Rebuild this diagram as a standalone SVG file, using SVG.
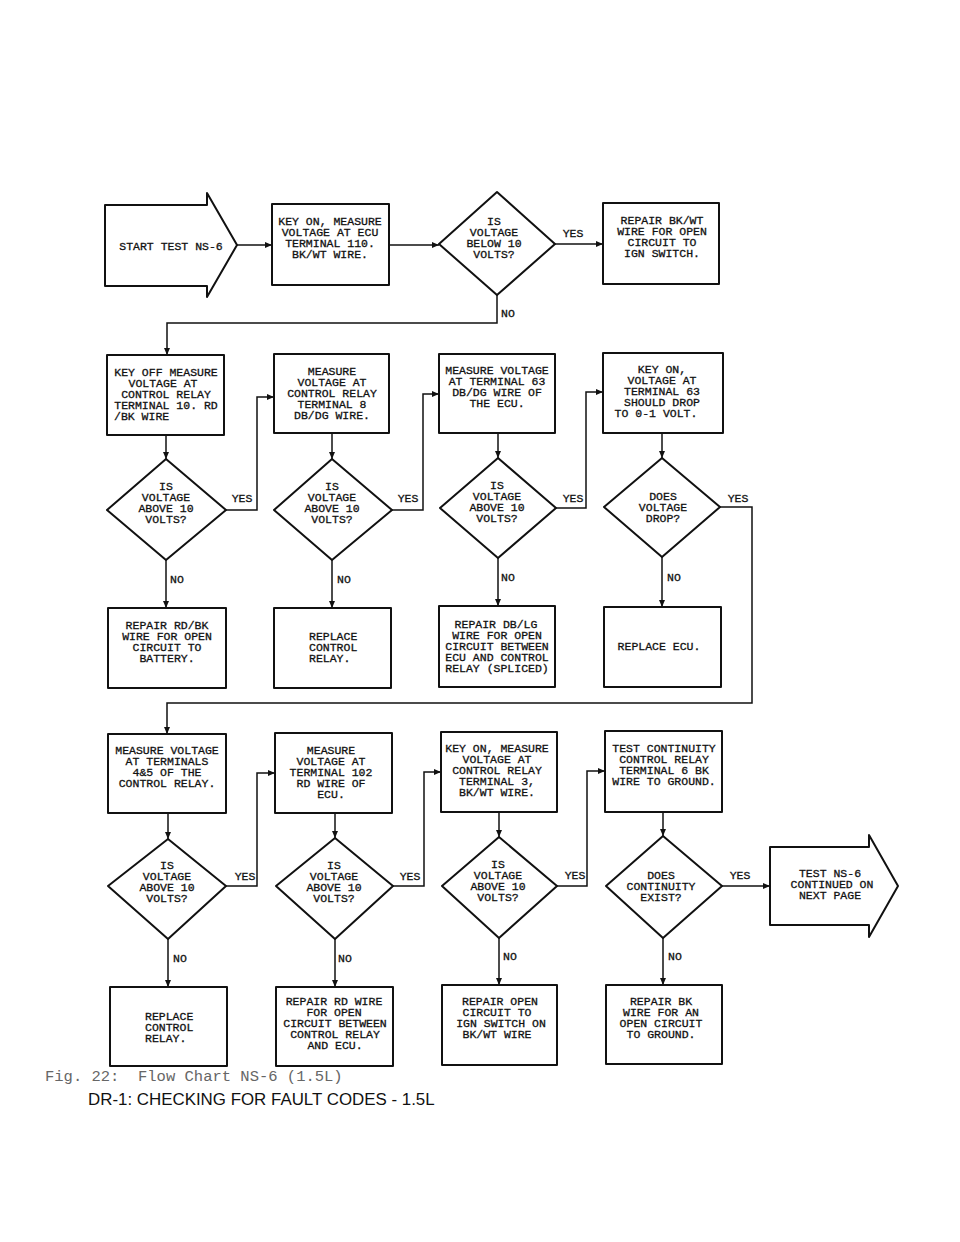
<svg xmlns="http://www.w3.org/2000/svg" width="960" height="1242" viewBox="0 0 960 1242">
<style>
.box{fill:#fff;stroke:#111;stroke-width:2;stroke-linejoin:round}
.c{fill:none;stroke:#111;stroke-width:1.5}
.t{font-family:"Liberation Mono",monospace;font-size:11.5px;fill:#111;stroke:#111;stroke-width:0.3;text-anchor:middle}
.l{font-family:"Liberation Mono",monospace;font-size:11.5px;fill:#111;stroke:#111;stroke-width:0.3;text-anchor:start}
</style>
<defs>
<marker id="ah" markerUnits="userSpaceOnUse" markerWidth="7" markerHeight="6" refX="7" refY="3" orient="auto">
<path d="M0,0 L7,3 L0,6 z" fill="#111"/>
</marker>
</defs>
<rect width="960" height="1242" fill="#fff"/>

<g id="connectors">
<path class="c" d="M237,245 H272" marker-end="url(#ah)"/>
<path class="c" d="M389,245 H439" marker-end="url(#ah)"/>
<path class="c" d="M555,244 H603" marker-end="url(#ah)"/>
<path class="c" d="M497,295 V323 H167 V355" marker-end="url(#ah)"/>
<path class="c" d="M166,435 V459" marker-end="url(#ah)"/>
<path class="c" d="M332,433 V459" marker-end="url(#ah)"/>
<path class="c" d="M498,433 V458" marker-end="url(#ah)"/>
<path class="c" d="M662,433 V458" marker-end="url(#ah)"/>
<path class="c" d="M226,510 H257 V397 H274" marker-end="url(#ah)"/>
<path class="c" d="M392,510 H423 V394 H439" marker-end="url(#ah)"/>
<path class="c" d="M556,508 H586 V392 H603" marker-end="url(#ah)"/>
<path class="c" d="M720,507 H752 V703 H167 V734" marker-end="url(#ah)"/>
<path class="c" d="M166,560 V608" marker-end="url(#ah)"/>
<path class="c" d="M332,560 V608" marker-end="url(#ah)"/>
<path class="c" d="M498,558 V606" marker-end="url(#ah)"/>
<path class="c" d="M662,557 V607" marker-end="url(#ah)"/>
<path class="c" d="M168,813 V839" marker-end="url(#ah)"/>
<path class="c" d="M335,813 V838" marker-end="url(#ah)"/>
<path class="c" d="M499,812 V837" marker-end="url(#ah)"/>
<path class="c" d="M663,812 V836" marker-end="url(#ah)"/>
<path class="c" d="M226,886 H257 V773 H275" marker-end="url(#ah)"/>
<path class="c" d="M393,886 H424 V772 H441" marker-end="url(#ah)"/>
<path class="c" d="M557,886 H587 V771 H605" marker-end="url(#ah)"/>
<path class="c" d="M722,886 H770" marker-end="url(#ah)"/>
<path class="c" d="M168,939 V987" marker-end="url(#ah)"/>
<path class="c" d="M335,939 V987" marker-end="url(#ah)"/>
<path class="c" d="M499,938 V985" marker-end="url(#ah)"/>
<path class="c" d="M663,938 V985" marker-end="url(#ah)"/>
</g>

<g id="labels">
<text class="t" x="573" y="237">YES</text>
<text class="l" x="501" y="317">NO</text>
<text class="t" x="242" y="502">YES</text>
<text class="t" x="408" y="502">YES</text>
<text class="t" x="573" y="502">YES</text>
<text class="t" x="738" y="502">YES</text>
<text class="l" x="170" y="583">NO</text>
<text class="l" x="337" y="583">NO</text>
<text class="l" x="501" y="581">NO</text>
<text class="l" x="667" y="581">NO</text>
<text class="t" x="245" y="880">YES</text>
<text class="t" x="410" y="880">YES</text>
<text class="t" x="575" y="879">YES</text>
<text class="t" x="740" y="879">YES</text>
<text class="l" x="173" y="962">NO</text>
<text class="l" x="338" y="962">NO</text>
<text class="l" x="503" y="960">NO</text>
<text class="l" x="668" y="960">NO</text>
</g>

<g id="start">
<polygon class="box" points="105,205 207,205 207,193 237,245 207,297 207,286 105,286"/>
<text class="t" x="171" y="250">START TEST NS-6</text>
</g>

<g id="n1">
<rect class="box" x="272" y="204" width="117" height="81"/>
<text class="t" x="330" y="225">KEY ON, MEASURE</text>
<text class="t" x="330" y="236">VOLTAGE AT ECU</text>
<text class="t" x="330" y="247">TERMINAL 110.</text>
<text class="t" x="330" y="258">BK/WT WIRE.</text>
</g>

<g id="d1">
<polygon class="box" points="497,192 555,244 497,295 439,244"/>
<text class="t" x="494" y="225">IS</text>
<text class="t" x="494" y="236">VOLTAGE</text>
<text class="t" x="494" y="247">BELOW 10</text>
<text class="t" x="494" y="258">VOLTS?</text>
</g>

<g id="n2">
<rect class="box" x="603" y="203" width="116" height="81"/>
<text class="t" x="662" y="224">REPAIR BK/WT</text>
<text class="t" x="662" y="235">WIRE FOR OPEN</text>
<text class="t" x="662" y="246">CIRCUIT TO</text>
<text class="t" x="662" y="257">IGN SWITCH.</text>
</g>

<g id="r2b1">
<rect class="box" x="107" y="355" width="117" height="80"/>
<text class="t" x="166" y="376">KEY OFF MEASURE</text>
<text class="t" x="163" y="387">VOLTAGE AT</text>
<text class="t" x="166" y="398">CONTROL RELAY</text>
<text class="t" x="166" y="409">TERMINAL 10. RD</text>
<text class="l" x="114" y="420">/BK WIRE</text>
</g>

<g id="r2b2">
<rect class="box" x="274" y="354" width="115" height="79"/>
<text class="t" x="332" y="375">MEASURE</text>
<text class="t" x="332" y="386">VOLTAGE AT</text>
<text class="t" x="332" y="397">CONTROL RELAY</text>
<text class="t" x="332" y="408">TERMINAL 8</text>
<text class="t" x="332" y="419">DB/DG WIRE.</text>
</g>

<g id="r2b3">
<rect class="box" x="439" y="354" width="116" height="79"/>
<text class="t" x="497" y="374">MEASURE VOLTAGE</text>
<text class="t" x="497" y="385">AT TERMINAL 63</text>
<text class="t" x="497" y="396">DB/DG WIRE OF</text>
<text class="t" x="497" y="407">THE ECU.</text>
</g>

<g id="r2b4">
<rect class="box" x="603" y="353" width="120" height="80"/>
<text class="t" x="662" y="373">KEY ON,</text>
<text class="t" x="662" y="384">VOLTAGE AT</text>
<text class="t" x="662" y="395">TERMINAL 63</text>
<text class="t" x="662" y="406">SHOULD DROP</text>
<text class="t" x="656" y="417">TO 0-1 VOLT.</text>
</g>

<g id="r2d1">
<polygon class="box" points="166,459 226,510 166,560 107,510"/>
<text class="t" x="166" y="490">IS</text>
<text class="t" x="166" y="501">VOLTAGE</text>
<text class="t" x="166" y="512">ABOVE 10</text>
<text class="t" x="166" y="523">VOLTS?</text>
</g>

<g id="r2d2">
<polygon class="box" points="332,459 392,510 332,560 274,510"/>
<text class="t" x="332" y="490">IS</text>
<text class="t" x="332" y="501">VOLTAGE</text>
<text class="t" x="332" y="512">ABOVE 10</text>
<text class="t" x="332" y="523">VOLTS?</text>
</g>

<g id="r2d3">
<polygon class="box" points="498,458 556,508 498,558 440,508"/>
<text class="t" x="497" y="489">IS</text>
<text class="t" x="497" y="500">VOLTAGE</text>
<text class="t" x="497" y="511">ABOVE 10</text>
<text class="t" x="497" y="522">VOLTS?</text>
</g>

<g id="r2d4">
<polygon class="box" points="662,458 720,507 662,557 604,507"/>
<text class="t" x="663" y="500">DOES</text>
<text class="t" x="663" y="511">VOLTAGE</text>
<text class="t" x="663" y="522">DROP?</text>
</g>

<g id="r3b1">
<rect class="box" x="108" y="608" width="118" height="80"/>
<text class="t" x="167" y="629">REPAIR RD/BK</text>
<text class="t" x="167" y="640">WIRE FOR OPEN</text>
<text class="t" x="167" y="651">CIRCUIT TO</text>
<text class="t" x="167" y="662">BATTERY.</text>
</g>

<g id="r3b2">
<rect class="box" x="274" y="608" width="117" height="80"/>
<text class="l" x="309" y="640">REPLACE</text>
<text class="l" x="309" y="651">CONTROL</text>
<text class="l" x="309" y="662">RELAY.</text>
</g>

<g id="r3b3">
<rect class="box" x="439" y="606" width="116" height="81"/>
<text class="t" x="496" y="628">REPAIR DB/LG</text>
<text class="t" x="497" y="639">WIRE FOR OPEN</text>
<text class="t" x="497" y="650">CIRCUIT BETWEEN</text>
<text class="t" x="497" y="661">ECU AND CONTROL</text>
<text class="t" x="497" y="672">RELAY (SPLICED)</text>
</g>

<g id="r3b4">
<rect class="box" x="604" y="607" width="117" height="80"/>
<text class="t" x="659" y="650">REPLACE ECU.</text>
</g>

<g id="r4b1">
<rect class="box" x="108" y="734" width="118" height="79"/>
<text class="t" x="167" y="754">MEASURE VOLTAGE</text>
<text class="t" x="167" y="765">AT TERMINALS</text>
<text class="t" x="167" y="776">4&amp;5 OF THE</text>
<text class="t" x="167" y="787">CONTROL RELAY.</text>
</g>

<g id="r4b2">
<rect class="box" x="275" y="733" width="117" height="80"/>
<text class="t" x="331" y="754">MEASURE</text>
<text class="t" x="331" y="765">VOLTAGE AT</text>
<text class="t" x="331" y="776">TERMINAL 102</text>
<text class="t" x="331" y="787">RD WIRE OF</text>
<text class="t" x="331" y="798">ECU.</text>
</g>

<g id="r4b3">
<rect class="box" x="441" y="732" width="116" height="80"/>
<text class="t" x="497" y="752">KEY ON, MEASURE</text>
<text class="t" x="497" y="763">VOLTAGE AT</text>
<text class="t" x="497" y="774">CONTROL RELAY</text>
<text class="t" x="497" y="785">TERMINAL 3,</text>
<text class="t" x="497" y="796">BK/WT WIRE.</text>
</g>

<g id="r4b4">
<rect class="box" x="605" y="731" width="117" height="81"/>
<text class="t" x="664" y="752">TEST CONTINUITY</text>
<text class="t" x="664" y="763">CONTROL RELAY</text>
<text class="t" x="664" y="774">TERMINAL 6 BK</text>
<text class="t" x="664" y="785">WIRE TO GROUND.</text>
</g>

<g id="r4d1">
<polygon class="box" points="168,839 226,886 168,939 108,886"/>
<text class="t" x="167" y="869">IS</text>
<text class="t" x="167" y="880">VOLTAGE</text>
<text class="t" x="167" y="891">ABOVE 10</text>
<text class="t" x="167" y="902">VOLTS?</text>
</g>

<g id="r4d2">
<polygon class="box" points="335,838 393,886 335,939 276,886"/>
<text class="t" x="334" y="869">IS</text>
<text class="t" x="334" y="880">VOLTAGE</text>
<text class="t" x="334" y="891">ABOVE 10</text>
<text class="t" x="334" y="902">VOLTS?</text>
</g>

<g id="r4d3">
<polygon class="box" points="499,837 557,886 499,938 442,886"/>
<text class="t" x="498" y="868">IS</text>
<text class="t" x="498" y="879">VOLTAGE</text>
<text class="t" x="498" y="890">ABOVE 10</text>
<text class="t" x="498" y="901">VOLTS?</text>
</g>

<g id="r4d4">
<polygon class="box" points="663,836 722,886 663,938 606,886"/>
<text class="t" x="661" y="879">DOES</text>
<text class="t" x="661" y="890">CONTINUITY</text>
<text class="t" x="661" y="901">EXIST?</text>
</g>

<g id="end">
<polygon class="box" points="770,847 869,847 869,835 898,886 869,937 869,925 770,925"/>
<text class="t" x="830" y="877">TEST NS-6</text>
<text class="t" x="832" y="888">CONTINUED ON</text>
<text class="t" x="830" y="899">NEXT PAGE</text>
</g>

<g id="r5b1">
<rect class="box" x="110" y="987" width="117" height="79"/>
<text class="l" x="145" y="1020">REPLACE</text>
<text class="l" x="145" y="1031">CONTROL</text>
<text class="l" x="145" y="1042">RELAY.</text>
</g>

<g id="r5b2">
<rect class="box" x="276" y="987" width="117" height="79"/>
<text class="t" x="334" y="1005">REPAIR RD WIRE</text>
<text class="t" x="334" y="1016">FOR OPEN</text>
<text class="t" x="335" y="1027">CIRCUIT BETWEEN</text>
<text class="t" x="335" y="1038">CONTROL RELAY</text>
<text class="t" x="335" y="1049">AND ECU.</text>
</g>

<g id="r5b3">
<rect class="box" x="442" y="985" width="115" height="80"/>
<text class="t" x="500" y="1005">REPAIR OPEN</text>
<text class="t" x="497" y="1016">CIRCUIT TO</text>
<text class="t" x="501" y="1027">IGN SWITCH ON</text>
<text class="t" x="497" y="1038">BK/WT WIRE</text>
</g>

<g id="r5b4">
<rect class="box" x="606" y="985" width="116" height="79"/>
<text class="t" x="661" y="1005">REPAIR BK</text>
<text class="t" x="661" y="1016">WIRE FOR AN</text>
<text class="t" x="661" y="1027">OPEN CIRCUIT</text>
<text class="t" x="661" y="1038">TO GROUND.</text>
</g>

<g id="captions">
<text x="45" y="1081" font-family="Liberation Mono, Courier New, monospace" font-size="15.5" fill="#666" xml:space="preserve">Fig. 22:  Flow Chart NS-6 (1.5L)</text>
<text x="88" y="1105" font-family="Liberation Sans, Arial, sans-serif" font-size="16.9" fill="#111">DR-1: CHECKING FOR FAULT CODES - 1.5L</text>
</g>
</svg>
